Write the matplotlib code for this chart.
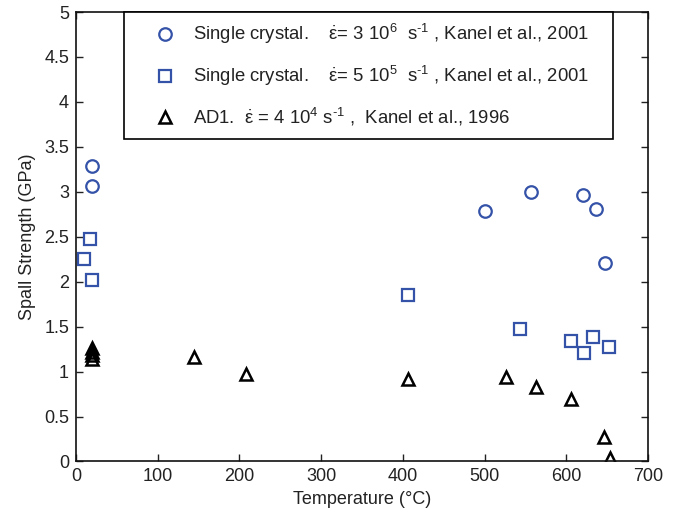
import matplotlib
matplotlib.use("Agg")
import matplotlib.pyplot as plt
from matplotlib.ticker import FormatStrFormatter, MultipleLocator

plt.rcParams['font.family'] = ['Liberation Sans', 'DejaVu Sans']
plt.rcParams['mathtext.fontset'] = 'custom'
plt.rcParams['mathtext.rm'] = 'Liberation Sans'
plt.rcParams['mathtext.it'] = 'Liberation Sans'
plt.rcParams['mathtext.default'] = 'regular'

# Single crystal, 3e6 s^-1
circ_T = [20, 20, 500, 557, 621, 636, 648]
circ_S = [3.29, 3.06, 2.79, 3.00, 2.97, 2.81, 2.21]
# Single crystal, 5e5 s^-1
sq_T = [17, 10, 19, 406, 544, 606, 622, 633, 652]
sq_S = [2.48, 2.25, 2.02, 1.85, 1.47, 1.34, 1.21, 1.39, 1.27]
# AD1, 4e4 s^-1
tri_T = [20, 20, 20, 20, 145, 208, 406, 526, 563, 606, 646, 653]
tri_S = [1.26, 1.22, 1.18, 1.14, 1.16, 0.97, 0.92, 0.94, 0.83, 0.70, 0.27, 0.04]

labels = [
    r"Single crystal.    $\dot{\epsilon}$= 3 10$^{6}$  s$^{\text{-}1}$ , Kanel et al., 2001",
    r"Single crystal.    $\dot{\epsilon}$= 5 10$^{5}$  s$^{\text{-}1}$ , Kanel et al., 2001",
    r"AD1.  $\dot{\epsilon}$ = 4 10$^{4}$ s$^{\text{-}1}$ ,  Kanel et al., 1996",
]

blue = '#3352a8'
fig = plt.figure(figsize=(6.82, 5.24), dpi=100)
ax = fig.add_axes([0.1114, 0.1193, 0.8387, 0.8577])

ax.plot(circ_T, circ_S, linestyle='none', marker='o', markersize=9,
        markerfacecolor='none', markeredgecolor=blue, markeredgewidth=1.6, label=labels[0])
ax.plot(sq_T, sq_S, linestyle='none', marker='s', markersize=8.5,
        markerfacecolor='none', markeredgecolor=blue, markeredgewidth=1.6, label=labels[1])
ax.plot(tri_T, tri_S, linestyle='none', marker='^', markersize=9,
        markerfacecolor='none', markeredgecolor='black', markeredgewidth=1.8, label=labels[2])

ax.set_xlim(0, 700)
ax.set_ylim(0, 5)
ax.xaxis.set_major_locator(MultipleLocator(100))
ax.yaxis.set_major_locator(MultipleLocator(0.5))
ax.yaxis.set_major_formatter(FormatStrFormatter('%g'))
ax.tick_params(direction='in', top=True, right=True, length=5, width=1,
               labelsize=13, colors='#222222', labelcolor='#222222', pad=5)
for s in ax.spines.values():
    s.set_linewidth(1.2)
    s.set_color('#111111')

ax.set_xlabel('Temperature (°C)', fontsize=13, color='#222222', labelpad=4)
ax.set_ylabel('Spall Strength (GPa)', fontsize=13, color='#222222', labelpad=6)

leg = ax.legend(loc='upper left', bbox_to_anchor=(0.084, 0.722, 0.855, 0.278),
                mode='expand', fontsize=13.3, frameon=True, fancybox=False,
                edgecolor='black', framealpha=1, borderpad=0.55, labelspacing=0.97,
                handlelength=3.35, handletextpad=-0.16, borderaxespad=0, numpoints=1)
leg.get_frame().set_linewidth(1.2)
for t in leg.get_texts():
    t.set_color('#222222')

fig.savefig('out.png', dpi=100)
